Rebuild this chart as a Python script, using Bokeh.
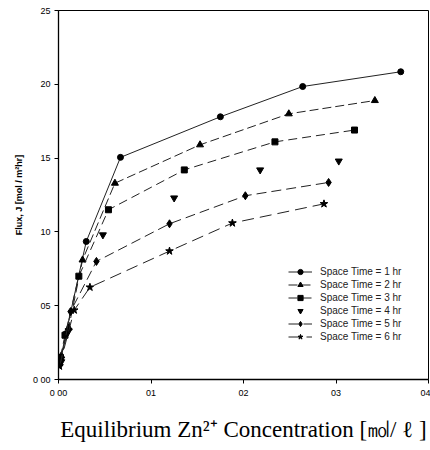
from bokeh.plotting import figure
from bokeh.models import Range1d, FixedTicker, Legend, LegendItem
from bokeh.embed import file_html
from bokeh.resources import INLINE

# ---- data ----
x_ticks = [0.0, 0.1, 0.2, 0.3, 0.4]
x_tick_labels = ["0 00", "01", "02", "03", "04"]
y_ticks = [0, 5, 10, 15, 20, 25]
y_tick_labels = ["0 00", "05", "10", "15", "20", "25"]

labels = ["Space Time = 1 hr", "Space Time = 2 hr", "Space Time = 3 hr",
          "Space Time = 4 hr", "Space Time = 5 hr", "Space Time = 6 hr"]

x1 = [0.002, 0.008, 0.030, 0.067, 0.175, 0.264, 0.370]
y1 = [1.3, 3.1, 9.35, 15.05, 17.8, 19.85, 20.85]
x2 = [0.003, 0.011, 0.026, 0.061, 0.153, 0.249, 0.342]
y2 = [1.6, 3.5, 8.1, 13.3, 15.9, 18.0, 18.9]
x3 = [0.002, 0.007, 0.022, 0.054, 0.136, 0.234, 0.320]
y3 = [1.5, 3.0, 7.0, 11.5, 14.2, 16.1, 16.9]
x4 = [0.003, 0.011, 0.048, 0.125, 0.218, 0.303]
y4 = [1.2, 3.3, 9.8, 12.3, 14.2, 14.8]
x5 = [0.002, 0.013, 0.041, 0.120, 0.202, 0.292]
y5 = [1.0, 4.6, 8.0, 10.55, 12.45, 13.35]
x6 = [0.001, 0.017, 0.034, 0.120, 0.188, 0.287]
y6 = [0.9, 4.7, 6.25, 8.7, 10.6, 11.9]

series = [(x1, y1), (x2, y2), (x3, y3), (x4, y4), (x5, y5), (x6, y6)]
markers = ["circle", "triangle", "square", "inverted_triangle", "diamond", "star"]
marker_sizes = [6, 7, 6, 7, 8, 8]
dashes = ["solid", "9 4", "9 5", None, "10 5", "12 6"]

p = figure(width=430, height=450, output_backend="svg", toolbar_location=None,
           x_range=Range1d(0, 0.4), y_range=Range1d(0, 25),
           min_border_left=58, min_border_right=2, min_border_top=10,
           min_border_bottom=71)
p.background_fill_color = "white"
p.border_fill_color = "white"
p.outline_line_color = "black"
p.outline_line_width = 1
p.xgrid.visible = False
p.ygrid.visible = False

for ax, ticks, lbls in ((p.xaxis, x_ticks, x_tick_labels), (p.yaxis, y_ticks, y_tick_labels)):
    ax.ticker = FixedTicker(ticks=ticks)
    ax.major_label_overrides = {t: l for t, l in zip(ticks, lbls)}
    ax.minor_tick_line_color = None
    ax.major_tick_in = 0
    ax.major_tick_out = 4
    ax.axis_line_color = "black"
    ax.axis_line_width = 1.3
    ax.major_tick_line_color = "black"
    ax.major_label_text_font = "Liberation Sans"
    ax.major_label_text_font_size = "9px"
    ax.major_label_text_color = "black"
    ax.major_label_standoff = 4

p.xaxis.axis_label = "Equilibrium Zn²⁺ Concentration [㏖/ ℓ ]"
p.xaxis.axis_label_text_font = "Liberation Serif"
p.xaxis.axis_label_text_font_size = "23px"
p.xaxis.axis_label_text_font_style = "normal"
p.xaxis.axis_label_text_color = "black"
p.xaxis.axis_label_standoff = 16

p.yaxis.axis_label = "Flux, J [mol / m²hr]"
p.yaxis.axis_label_text_font = "Liberation Sans"
p.yaxis.axis_label_text_font_size = "9px"
p.yaxis.axis_label_text_font_style = "bold"
p.yaxis.axis_label_text_color = "black"
p.yaxis.axis_label_standoff = 6

items = []
for (xs, ys), mk, ms, dash, lab in zip(series, markers, marker_sizes, dashes, labels):
    rs = []
    if dash is not None:
        ln = p.line(xs, ys, line_color="#222222", line_width=1, line_dash=dash)
        rs.append(ln)
    sc = p.scatter(xs, ys, marker=mk, size=ms, fill_color="black", line_color="black")
    rs.append(sc)
    items.append(LegendItem(label=lab, renderers=rs))

legend = Legend(items=items, location=(230, 36), orientation="vertical")
legend.background_fill_alpha = 0
legend.border_line_color = None
legend.label_text_font = "Liberation Sans"
legend.label_text_font_size = "10px"
legend.label_text_color = "#222222"
legend.glyph_width = 24
legend.glyph_height = 13
legend.label_height = 13
legend.spacing = 0
legend.padding = 0
legend.margin = 0
legend.label_standoff = 8
p.add_layout(legend, "center")

open("out.html", "w").write(file_html(p, INLINE))
